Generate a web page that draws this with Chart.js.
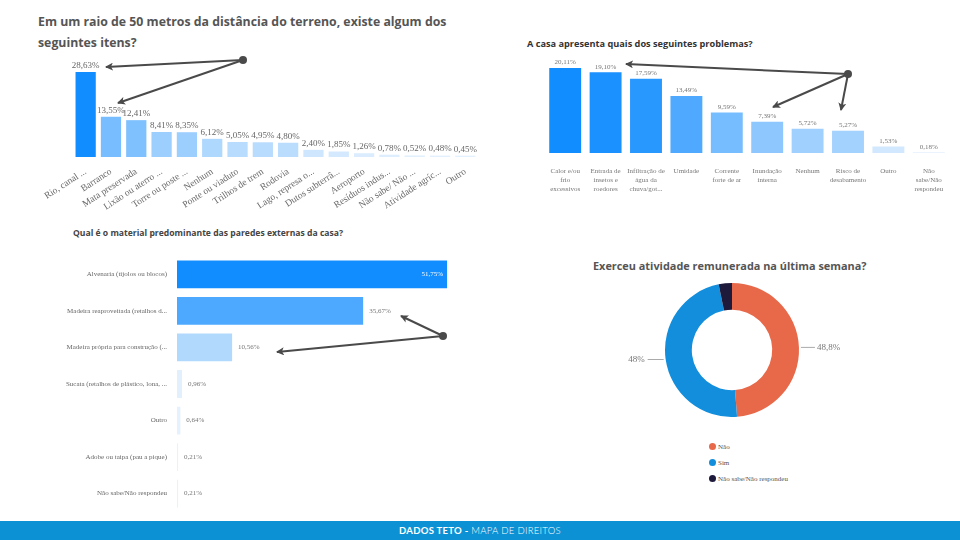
<!DOCTYPE html>
<html>
<head>
<meta charset="utf-8">
<script src="https://cdn.jsdelivr.net/npm/chart.js@4/dist/chart.umd.min.js"></script>
<style>
  html, body { margin: 0; padding: 0; background: #fff; }
  body { width: 960px; height: 540px; position: relative; overflow: hidden; font-family: "Open Sans", sans-serif; }
  .box { position: absolute; }
  .title { position: absolute; font-weight: 700; white-space: nowrap; }
  #legend4 { position: absolute; left: 709px; top: 439px; font-family: "Liberation Serif", serif; font-size: 7px; color: #555; }
  #legend4 div { height: 16px; line-height: 16px; }
  #legend4 span.dot { display: inline-block; width: 7px; height: 7px; border-radius: 50%; margin-right: 2px; vertical-align: -1px; }
  #footer { position: absolute; left: 0; top: 521px; width: 960px; height: 19px; background: #0B91D4; color: #fff;
            font-family: Lato, sans-serif; font-size: 9.5px; line-height: 19px; text-align: center; letter-spacing: 0.3px; }
  #arrows { position: absolute; left: 0; top: 0; pointer-events: none; }
</style>
</head>
<body>

<div class="title" style="left:38px; top:11px; font-size:12.3px; line-height:21px; color:#555;">Em um raio de 50 metros da distância do terreno, existe algum dos<br>seguintes itens?</div>
<div class="title" style="left:527px; top:37px; font-size:9.2px; color:#333;">A casa apresenta quais dos seguintes problemas?</div>
<div class="title" style="left:73px; top:227px; font-size:8.6px; color:#444;">Qual é o material predominante das paredes externas da casa?</div>
<div class="title" style="left:593px; top:258px; font-size:10.9px; color:#555;">Exerceu atividade remunerada na última semana?</div>

<div class="box" style="left:0px; top:40px; width:490px; height:170px;"><canvas id="c1"></canvas></div>
<div class="box" style="left:510px; top:55px; width:440px; height:138px;"><canvas id="c2"></canvas></div>
<div class="box" style="left:0px; top:250px; width:475px; height:268px;"><canvas id="c3"></canvas></div>
<div class="box" style="left:577px; top:283px; width:310px; height:134px;"><canvas id="c4"></canvas></div>
<div id="legend4"></div>

<svg id="arrows" width="960" height="540">
  <defs>
    <marker id="head" markerWidth="8" markerHeight="8" refX="7" refY="4" orient="auto" markerUnits="userSpaceOnUse">
      <path d="M0,0 L8,4 L0,8 L2,4 Z" fill="#4a4a4a"></path>
    </marker>
  </defs>
  <g stroke="#4a4a4a" stroke-width="2" fill="none" marker-end="url(#head)">
    <line x1="243" y1="60" x2="106" y2="67"></line>
    <line x1="243" y1="60" x2="118" y2="103"></line>
    <line x1="848" y1="74" x2="626" y2="64"></line>
    <line x1="848" y1="74" x2="773" y2="107"></line>
    <line x1="848" y1="74" x2="841" y2="110"></line>
    <line x1="443" y1="336" x2="401" y2="316"></line>
    <line x1="443" y1="336" x2="277" y2="352"></line>
  </g>
  <circle cx="243" cy="60" r="4" fill="#4a4a4a"></circle>
  <circle cx="848" cy="74" r="4" fill="#4a4a4a"></circle>
  <circle cx="443" cy="336" r="4" fill="#4a4a4a"></circle>
</svg>

<div id="footer"><b>DADOS TETO -</b> <span style="font-weight:300">MAPA DE DIREITOS</span></div>

<script>
// Em um raio de 50 metros...
const nearLabels = ['Rio, canal ...', 'Barranco', 'Mata preservada', 'Lixão ou aterro ...', 'Torre ou poste ...',
    'Nenhum', 'Ponte ou viaduto', 'Trilhos de trem', 'Rodovia', 'Lago, represa o...', 'Dutos subterrâ...',
    'Aeroporto', 'Resíduos indus...', 'Não sabe/ Não ...', 'Atividade agríc...', 'Outro'];
const nearValues = [28.63, 13.55, 12.41, 8.41, 8.35, 6.12, 5.05, 4.95, 4.80, 2.40, 1.85, 1.26, 0.78, 0.52, 0.48, 0.45];

// A casa apresenta quais dos seguintes problemas?
const problemLabels = [['Calor e/ou', 'frio', 'excessivos'], ['Entrada de', 'insetos e', 'roedores'],
    ['Infiltração de', 'água da', 'chuva/got...'], 'Umidade', ['Corrente', 'forte de ar'], ['Inundação', 'interna'],
    'Nenhum', ['Risco de', 'desabamento'], 'Outro', ['Não', 'sabe/Não', 'respondeu']];
const problemValues = [20.11, 19.10, 17.59, 13.49, 9.59, 7.39, 5.72, 5.27, 1.53, 0.18];

// Qual é o material predominante das paredes externas da casa?
const wallLabels = ['Alvenaria (tijolos ou blocos)', 'Madeira reaproveitada (retalhos d...',
    'Madeira própria para construção (...', 'Sucata (retalhos de plástico, lona, ...', 'Outro',
    'Adobe ou taipa (pau a pique)', 'Não sabe/Não respondeu'];
const wallValues = [51.75, 35.67, 10.56, 0.96, 0.64, 0.21, 0.21];

// Exerceu atividade remunerada na última semana?
const workLabels = ['Não', 'Sim', 'Não sabe/Não respondeu'];
const workValues = [48.8, 48, 3.2];
const workColors = ['#E8694A', '#128EDC', '#1E1A3C'];

const SERIF = '"Liberation Serif", "Times New Roman", serif';

// cor mais forte para valores maiores
function shade(v, max) {
    const t = Math.pow(v / max, 0.85);
    const pale = [233, 243, 254], full = [17, 141, 255];
    const c = pale.map((p, i) => Math.round(p + (full[i] - p) * t));
    return `rgb(${c[0]}, ${c[1]}, ${c[2]})`;
}

function pct(v, digits) {
    return (digits === undefined ? String(v) : v.toFixed(digits)).replace('.', ',') + '%';
}

// rótulos de valor acima das barras
function topLabels(size, color) {
    return {
        id: 'topLabels',
        afterDatasetsDraw(chart) {
            const ctx = chart.ctx;
            const meta = chart.getDatasetMeta(0);
            ctx.save();
            ctx.font = `${size}px ${SERIF}`;
            ctx.fillStyle = color;
            ctx.textAlign = 'center';
            ctx.textBaseline = 'bottom';
            meta.data.forEach((bar, i) => {
                ctx.fillText(pct(chart.data.datasets[0].data[i], 2), bar.x, bar.y - 2);
            });
            ctx.restore();
        }
    };
}

new Chart(document.getElementById('c1'), {
    type: 'bar',
    data: {
        labels: nearLabels,
        datasets: [{
            data: nearValues,
            backgroundColor: nearValues.map(v => shade(v, nearValues[0])),
            categoryPercentage: 1,
            barPercentage: 0.8
        }]
    },
    options: {
        responsive: true,
        maintainAspectRatio: false,
        animation: false,
        layout: { padding: { left: 73, right: 12, top: 19, bottom: 0 } },
        scales: {
            x: {
                grid: { display: false },
                border: { display: false },
                ticks: { autoSkip: false, minRotation: 33, maxRotation: 33, padding: 1,
                         font: { family: SERIF, size: 9.5 }, color: '#6a6a6a' },
                afterFit(axis) { axis.height = 53; }
            },
            y: { display: false, min: 0, max: 33 }
        },
        plugins: { legend: { display: false }, tooltip: { enabled: false } }
    },
    plugins: [topLabels(9, '#666')]
});

new Chart(document.getElementById('c2'), {
    type: 'bar',
    data: {
        labels: problemLabels,
        datasets: [{
            data: problemValues,
            backgroundColor: problemValues.map(v => shade(v, problemValues[0])),
            categoryPercentage: 1,
            barPercentage: 0.79
        }]
    },
    options: {
        responsive: true,
        maintainAspectRatio: false,
        animation: false,
        layout: { padding: { left: 35, right: 1, top: 5, bottom: 0 } },
        scales: {
            x: {
                grid: { display: false },
                border: { display: false },
                ticks: { autoSkip: false, maxRotation: 0, padding: 6,
                         font: { family: SERIF, size: 7, lineHeight: 1.25 }, color: '#777' },
                afterFit(axis) { axis.height = 40; }
            },
            y: { display: false, min: 0, max: 22 }
        },
        plugins: { legend: { display: false }, tooltip: { enabled: false } }
    },
    plugins: [topLabels(7, '#777')]
});

new Chart(document.getElementById('c3'), {
    type: 'bar',
    data: {
        labels: wallLabels,
        datasets: [{
            data: wallValues,
            backgroundColor: wallValues.map(v => shade(v, wallValues[0])),
            categoryPercentage: 1,
            barPercentage: 0.76
        }]
    },
    options: {
        indexAxis: 'y',
        responsive: true,
        maintainAspectRatio: false,
        animation: false,
        layout: { padding: { left: 0, right: 0, top: 6, bottom: 5 } },
        scales: {
            x: { display: false, min: 0, max: 57.1 },
            y: {
                grid: { display: false },
                border: { display: false },
                ticks: { padding: 2, font: { family: SERIF, size: 7 }, color: '#666' },
                afterFit(axis) { axis.width = 177; }
            }
        },
        plugins: { legend: { display: false }, tooltip: { enabled: false } }
    },
    plugins: [{
        id: 'endLabels',
        afterDatasetsDraw(chart) {
            const ctx = chart.ctx;
            const meta = chart.getDatasetMeta(0);
            ctx.save();
            ctx.font = `7px ${SERIF}`;
            ctx.textBaseline = 'middle';
            meta.data.forEach((bar, i) => {
                const text = pct(wallValues[i], 2);
                if (i === 0) {
                    ctx.fillStyle = '#fff';
                    ctx.textAlign = 'right';
                    ctx.fillText(text, bar.x - 4, bar.y);
                } else {
                    ctx.fillStyle = '#777';
                    ctx.textAlign = 'left';
                    ctx.fillText(text, bar.x + 6, bar.y);
                }
            });
            ctx.restore();
        }
    }]
});

new Chart(document.getElementById('c4'), {
    type: 'doughnut',
    data: {
        labels: workLabels,
        datasets: [{ data: workValues, backgroundColor: workColors, borderWidth: 0 }]
    },
    options: {
        responsive: true,
        maintainAspectRatio: false,
        animation: false,
        cutout: '60%',
        plugins: { legend: { display: false }, tooltip: { enabled: false } }
    },
    plugins: [{
        id: 'sideLabels',
        afterDatasetsDraw(chart) {
            const ctx = chart.ctx;
            const meta = chart.getDatasetMeta(0);
            ctx.save();
            ctx.font = `9px ${SERIF}`;
            ctx.fillStyle = '#777';
            ctx.strokeStyle = '#aaa';
            ctx.lineWidth = 1;
            ctx.textBaseline = 'middle';
            meta.data.forEach((arc, i) => {
                if (i > 1) return;
                const mid = (arc.startAngle + arc.endAngle) / 2;
                const ex = arc.x + Math.cos(mid) * (arc.outerRadius + 2);
                const ey = arc.y + Math.sin(mid) * (arc.outerRadius + 2);
                const right = Math.cos(mid) >= 0;
                const lx = ex + (right ? 14 : -16);
                ctx.beginPath();
                ctx.moveTo(ex, ey);
                ctx.lineTo(lx, ey);
                ctx.stroke();
                ctx.textAlign = right ? 'left' : 'right';
                ctx.fillText(pct(workValues[i]), lx + (right ? 2 : -3), ey);
            });
            ctx.restore();
        }
    }]
});

const legend = document.getElementById('legend4');
workLabels.forEach((name, i) => {
    const row = document.createElement('div');
    row.innerHTML = `<span class="dot" style="background:${workColors[i]}"></span>${name}`;
    legend.appendChild(row);
});
</script>
</body>
</html>
